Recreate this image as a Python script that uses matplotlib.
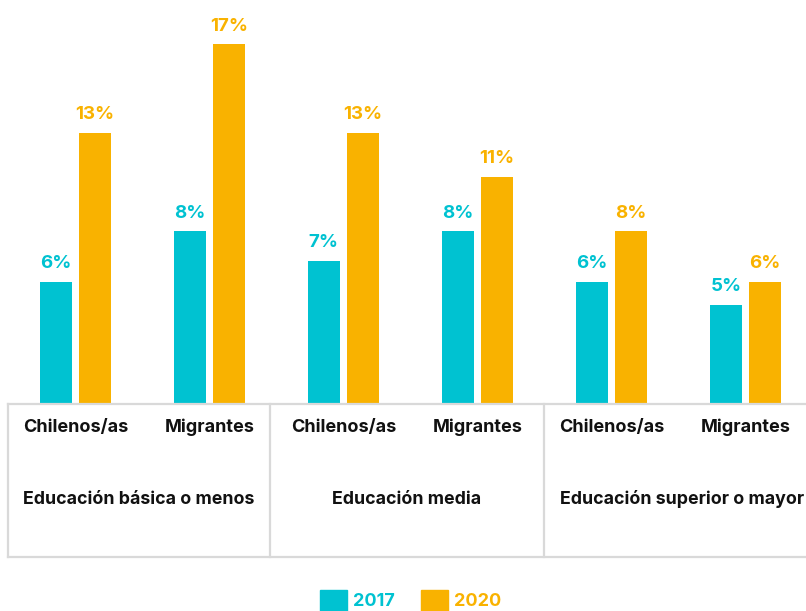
import numpy as np
import matplotlib.pyplot as plt
from matplotlib.transforms import blended_transform_factory
from matplotlib.patches import Rectangle

# Open Sans / Noto Sans are only variable fonts here, so Inter Bold stands in
plt.rcParams['font.family'] = ['Inter', 'DejaVu Sans']

# DATA (percent)
categories = ["Chilenos/as", "Migrantes", "Chilenos/as", "Migrantes", "Chilenos/as", "Migrantes"]
groups = ["Educación básica o menos", "Educación media", "Educación superior o mayor"]
years = ["2017", "2020"]
vals_2017 = [5.8, 8.2, 6.8, 8.2, 5.8, 4.7]
vals_2020 = [12.9, 17.1, 12.9, 10.8, 8.2, 5.8]

C2017 = "#00C2D1"
C2020 = "#F9B200"
GRID = "#D9D9D9"

W, H = 806, 611
fig = plt.figure(figsize=(W / 100, H / 100), dpi=100)

# axes in pixels: left edge 8, baseline at 403.5 from top
base = 403.5
ax = fig.add_axes([8.3 / W, (H - base) / H, 804 / W, base / H])
ax.set_xlim(-0.5, 5.5)
ax.set_ylim(0, base / 21.0)
ax.axis('off')

x = np.arange(len(categories))
bw = 0.24
off = 0.145
b1 = ax.bar(x - off, vals_2017, bw, color=C2017)
b2 = ax.bar(x + off, vals_2020, bw, color=C2020)

# value labels
for bars, vals, col in [(b1, vals_2017, C2017), (b2, vals_2020, C2020)]:
    for r, v in zip(bars, vals):
        ax.annotate("{:.0f}%".format(v), (r.get_x() + r.get_width() / 2, v),
                    xytext=(0, 13), textcoords='offset points',
                    ha='center', va='center', fontsize=13.5, fontweight='bold', color=col)

# table under the bars (y in figure fraction, x in data)
tr = blended_transform_factory(ax.transData, fig.transFigure)
def fy(px):
    return (H - px) / H

top, bottom = 403.5, 556.5
bounds = [-0.5, 1.45, 3.5, 5.55]
ax.plot([bounds[0], bounds[-1]], [fy(top), fy(top)], color=GRID, lw=1.6, transform=tr, clip_on=False)
ax.plot([bounds[0], bounds[-1]], [fy(bottom), fy(bottom)], color=GRID, lw=1.6, transform=tr, clip_on=False)
for b in bounds:
    ax.plot([b, b], [fy(top), fy(bottom)], color=GRID, lw=1.6, transform=tr, clip_on=False)

for xi, c in zip(x, categories):
    ax.text(xi, fy(427), c, transform=tr, ha='center', va='center',
            fontsize=13, fontweight='bold', color='#111111')
for i, g in enumerate(groups):
    ax.text((bounds[i] + bounds[i + 1]) / 2, fy(499), g, transform=tr, ha='center', va='center',
            fontsize=12.8, fontweight='bold', color='#111111')

# legend
for lx, yr, col in [(320, years[0], C2017), (421, years[1], C2020)]:
    fig.patches.append(Rectangle((lx / W, fy(612)), 27 / W, 22 / H, color=col,
                                 transform=fig.transFigure))
    fig.text((lx + 33) / W, fy(602), yr, ha='left', va='center',
             fontsize=13, fontweight='bold', color=col)

fig.savefig("out.png", dpi=100)
